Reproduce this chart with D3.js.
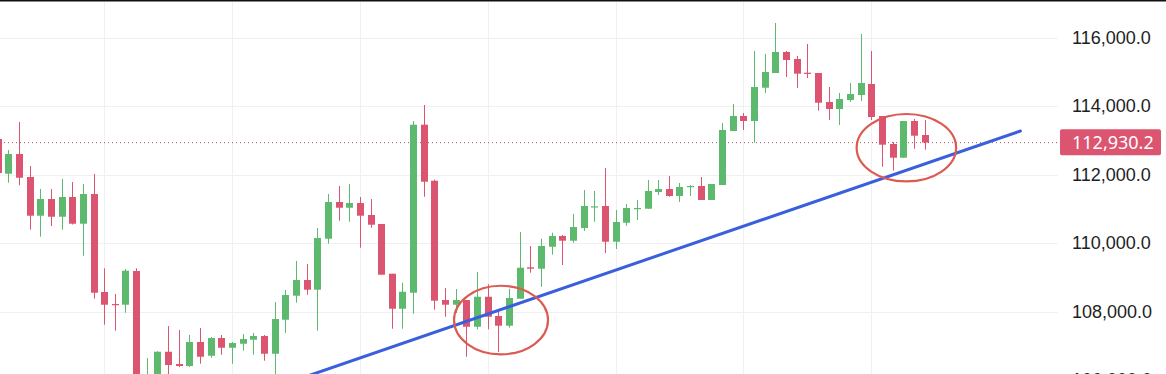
<!DOCTYPE html>
<html>
  <head>
    <meta charset="utf-8">
    <script src="https://cdn.jsdelivr.net/npm/d3@7/dist/d3.min.js"></script>
    <style>
      body { margin: 0; background: #fff; }
      svg { display: block; font-family: "Noto Sans", "Open Sans", sans-serif; }
      .grid line { stroke: #f0f0f0; stroke-width: 1px; }
      .wick { stroke-width: 1px; }
      .axis text { font-size: 18px; fill: #1e1e1e; }
    </style>
  </head>
  <body>
    <div id="chart"></div>
    <script>
      // OHLC, one entry per candle (left to right)
      var opens = [113036,112023,112598,111927,110797,111284,110767,111343,110563,111430,
        108569,108218,108198,109182,105850,106050,106825,106466,106408,107109,
        106708,107225,106942,107059,107176,107284,106767,107760,108461,108919,
        108636,110125,111197,111030,111167,110817,110554,109103,108081,108548,
        113454,111818,108335,108198,108335,107555,108431,107868,107585,108373,
        109290,109249,109891,110204,110067,110437,111051,111080,110037,110592,
        110992,111001,111489,111576,111372,111643,111664,111255,111693,113270,
        113708,113562,114534,114963,115577,115372,114972,114963,114117,113912,
        114175,114321,114642,113708,112890,112490,113562,113153];
      var closes = [112043,112598,111906,110797,111284,110767,111343,110563,111430,108548,
        108198,108189,109191,105900,106150,106825,106437,106408,107109,106679,
        107225,106942,107079,107196,107284,106767,107780,108481,108919,108636,
        110145,111197,111030,111167,110797,110534,109074,108081,108577,113454,
        111789,108315,108198,108335,107555,108431,107847,107585,108393,109278,
        109249,109912,110204,110067,110467,111080,111071,110037,110613,111021,
        111021,111518,111576,111372,111635,111664,111255,111722,113299,113708,
        113562,114555,114993,115577,115343,114943,114943,114096,113912,114204,
        114350,114671,113679,112870,112490,113562,113133,112930.2];
      var highs = [113100,112715,113533,112248,111576,111576,111868,111781,111722,112014,
        109261,108510,109240,109261,106640,106840,107576,107459,107313,107517,
        107254,107313,107109,107342,107371,107313,108277,108627,109474,109386,
        110437,111430,111664,111722,111343,111284,110554,109103,108840,113562,
        114029,111848,108685,108656,108335,109153,108794,108064,108665,110321,
        109912,110125,110300,110233,110846,111547,111518,112189,110963,111138,
        111255,111839,111839,111956,111751,111693,111927,111722,113503,114058,
        113795,115606,115518,116423,115606,115460,115810,114963,114555,114379,
        114671,116102,115606,113708,112948,113562,113620,113591];
      var lows = [111950,111760,111684,110388,110183,110496,110388,110540,109629,108373,
        107614,107439,107964,105700,105600,105800,106100,106378,106378,106475,
        106650,106738,106475,106855,106738,106563,106150,107380,108256,108489,
        107439,109979,110651,110621,109862,110446,109074,107497,107497,107935,
        111351,108052,107847,107955,106679,107480,107480,106817,107526,108373,
        109132,108723,109658,109357,110008,110350,110621,109707,109824,110504,
        110671,111001,111401,111352,111197,111372,111255,111255,111693,113270,
        113299,112928,114379,114963,114847,114525,114817,113863,113591,113445,
        114117,114146,113591,112227,112111,112490,112753,112724];

      var yTicks = [106000, 108000, 110000, 112000, 114000, 116000];
      var vGridIdx = [10, 22, 34, 46, 58, 70, 82];
      var lastPrice = 112930.2;

      // hand-drawn annotations, in candle-index / price units
      var trendLine = [{i: 28, p: 106000}, {i: 96, p: 113270}];
      var circles = [
        {i: 47.25, p: 107751, ri: 4.41, rp: 1001},
        {i: 85.3, p: 112782, ri: 4.67, rp: 984}
      ];

      var width = 1166, height = 374;
      var plotRight = 1058;
      var upColor = "#5cb96e", downColor = "#db5470";

      var svg = d3.select("#chart").append("svg")
        .attr("width", width).attr("height", height);

      var x = d3.scaleLinear().domain([0, opens.length - 1]).range([-2.35, 924.5]);
      var y = d3.scaleLinear().domain([106000, 116000]).range([380, 37.5]);
      var bodyW = 7;

      var candles = d3.range(opens.length).map(function(i) {
        return {i: i, o: opens[i], c: closes[i], h: highs[i], l: lows[i]};
      });

      // grid
      var grid = svg.append("g").attr("class", "grid");
      grid.selectAll("line.h").data(yTicks).enter().append("line")
        .attr("class", "h")
        .attr("x1", 0).attr("x2", plotRight)
        .attr("y1", d => Math.round(y(d)) + 0.5).attr("y2", d => Math.round(y(d)) + 0.5);
      grid.selectAll("line.v").data(vGridIdx).enter().append("line")
        .attr("class", "v")
        .attr("x1", d => Math.round(x(d)) + 0.5).attr("x2", d => Math.round(x(d)) + 0.5)
        .attr("y1", 0).attr("y2", height);

      // last price dotted line
      svg.append("line")
        .attr("x1", 0).attr("x2", plotRight)
        .attr("y1", y(lastPrice)).attr("y2", y(lastPrice))
        .style("stroke", "#9a5a64").style("stroke-width", 1)
        .style("stroke-dasharray", "1 3");

      // candles
      var cg = svg.append("g").selectAll("g").data(candles).enter().append("g");
      cg.append("line")
        .attr("class", "wick")
        .attr("x1", d => Math.round(x(d.i)) + 0.5).attr("x2", d => Math.round(x(d.i)) + 0.5)
        .attr("y1", d => y(d.h)).attr("y2", d => y(d.l))
        .style("stroke", d => d.c >= d.o ? upColor : downColor);
      cg.append("rect")
        .attr("x", d => Math.round(x(d.i)) + 0.5 - bodyW / 2)
        .attr("width", bodyW)
        .attr("y", d => y(Math.max(d.o, d.c)))
        .attr("height", d => Math.max(1.2, Math.abs(y(d.o) - y(d.c))))
        .style("fill", d => d.c >= d.o ? upColor : downColor);

      // trend line
      svg.append("line")
        .attr("x1", x(trendLine[0].i)).attr("y1", y(trendLine[0].p))
        .attr("x2", x(trendLine[1].i)).attr("y2", y(trendLine[1].p))
        .style("stroke", "#3a5fdc").style("stroke-width", 3)
        .style("stroke-linecap", "round");

      // circled areas
      svg.selectAll("ellipse").data(circles).enter().append("ellipse")
        .attr("cx", d => x(d.i)).attr("cy", d => y(d.p))
        .attr("rx", d => x(d.i + d.ri) - x(d.i))
        .attr("ry", d => y(d.p - d.rp) - y(d.p))
        .style("fill", "none").style("stroke", "#dc5a52").style("stroke-width", 2.2);

      // price axis
      var axis = svg.append("g").attr("class", "axis")
        .attr("transform", "translate(" + 1060 + ",0)")
        .call(d3.axisRight(y).tickValues(yTicks).tickSize(0).tickPadding(12)
          .tickFormat(d3.format(",.1f")));
      axis.select(".domain").remove();

      // last price tag
      svg.append("rect")
        .attr("x", 1060).attr("y", y(lastPrice) - 13.5)
        .attr("width", 101).attr("height", 26).attr("rx", 2)
        .style("fill", downColor);
      svg.append("text")
        .attr("x", 1072).attr("y", y(lastPrice)).attr("dy", "0.34em")
        .style("font-size", "18px").style("fill", "#fff")
        .text(d3.format(",.1f")(lastPrice));

      // top frame edge
      svg.append("line")
        .attr("x1", 0).attr("x2", width).attr("y1", 0.75).attr("y2", 0.75)
        .style("stroke", "#111").style("stroke-width", 1.5);
    </script>
  </body>
</html>
